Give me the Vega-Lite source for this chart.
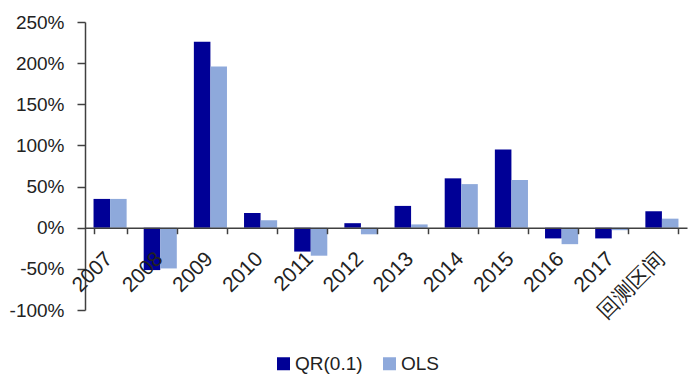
{
  "$schema": "https://vega.github.io/schema/vega-lite/v6.json",
  "width": 602,
  "height": 288,
  "autosize": "none",
  "padding": {"left": 85, "top": 22, "right": 9, "bottom": 74},
  "background": "white",
  "data": {
    "values": [
      {"period": "2007", "series": "QR(0.1)", "value": 0.35},
      {"period": "2007", "series": "OLS", "value": 0.35},
      {"period": "2008", "series": "QR(0.1)", "value": -0.515},
      {"period": "2008", "series": "OLS", "value": -0.495},
      {"period": "2009", "series": "QR(0.1)", "value": 2.26},
      {"period": "2009", "series": "OLS", "value": 1.96},
      {"period": "2010", "series": "QR(0.1)", "value": 0.18},
      {"period": "2010", "series": "OLS", "value": 0.09},
      {"period": "2011", "series": "QR(0.1)", "value": -0.29},
      {"period": "2011", "series": "OLS", "value": -0.34},
      {"period": "2012", "series": "QR(0.1)", "value": 0.055},
      {"period": "2012", "series": "OLS", "value": -0.08},
      {"period": "2013", "series": "QR(0.1)", "value": 0.265},
      {"period": "2013", "series": "OLS", "value": 0.04},
      {"period": "2014", "series": "QR(0.1)", "value": 0.60},
      {"period": "2014", "series": "OLS", "value": 0.53},
      {"period": "2015", "series": "QR(0.1)", "value": 0.95},
      {"period": "2015", "series": "OLS", "value": 0.58},
      {"period": "2016", "series": "QR(0.1)", "value": -0.13},
      {"period": "2016", "series": "OLS", "value": -0.20},
      {"period": "2017", "series": "QR(0.1)", "value": -0.13},
      {"period": "2017", "series": "OLS", "value": -0.03},
      {"period": "回测区间", "series": "QR(0.1)", "value": 0.20},
      {"period": "回测区间", "series": "OLS", "value": 0.11}
    ]
  },
  "mark": {"type": "bar"},
  "encoding": {
    "x": {
      "field": "period",
      "type": "nominal",
      "sort": null,
      "scale": {"paddingInner": 0.34, "paddingOuter": 0.17},
      "axis": {
        "title": null,
        "labelAngle": -45,
        "labelAlign": "right",
        "labelBaseline": "top",
        "tickBand": "extent",
        "offset": -82.29,
        "zindex": 1,
        "domainColor": "#404040",
        "domainWidth": 1.5,
        "tickColor": "#404040",
        "tickWidth": 1.5,
        "tickSize": 6,
        "labelFont": "Liberation Sans",
        "labelFontSize": 21,
        "labelColor": "#222222",
        "labelPadding": 14,
        "labelOffset": -9
      }
    },
    "xOffset": {
      "field": "series",
      "type": "nominal",
      "sort": ["QR(0.1)", "OLS"],
      "scale": {"paddingInner": 0, "paddingOuter": 0}
    },
    "y": {
      "field": "value",
      "type": "quantitative",
      "scale": {"domain": [-1, 2.5], "nice": false, "zero": false},
      "axis": {
        "title": null,
        "values": [-1, -0.5, 0, 0.5, 1, 1.5, 2, 2.5],
        "format": ".0%",
        "labelExpr": "replace(datum.label, '−', '-')",
        "grid": false,
        "domainColor": "#404040",
        "domainWidth": 1.5,
        "tickColor": "#404040",
        "tickWidth": 1.5,
        "tickSize": 8,
        "labelFont": "Liberation Sans",
        "labelFontSize": 19,
        "labelColor": "#222222",
        "labelPadding": 13
      }
    },
    "color": {
      "field": "series",
      "type": "nominal",
      "scale": {"domain": ["QR(0.1)", "OLS"], "range": ["#000096", "#8EA9DB"]},
      "legend": {
        "title": null,
        "orient": "none",
        "direction": "horizontal",
        "legendX": 189,
        "legendY": 332,
        "symbolType": "square",
        "symbolSize": 169,
        "symbolStrokeWidth": 0,
        "labelFont": "Liberation Sans",
        "labelFontSize": 19,
        "labelColor": "#222222",
        "labelOffset": 2,
        "columnPadding": 17
      }
    }
  },
  "config": {"view": {"stroke": null}}
}
